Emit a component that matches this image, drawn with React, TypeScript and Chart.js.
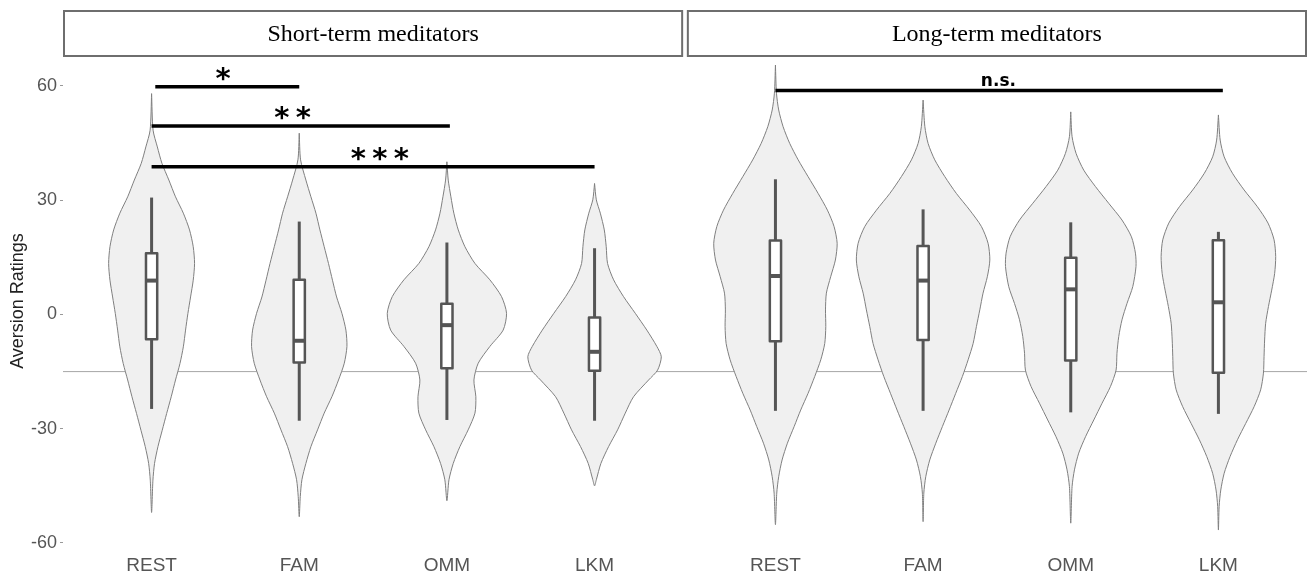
import React, { useEffect, useRef } from 'react';
import { Chart, registerables } from 'chart.js';

Chart.register(...registerables);

// ---------------- data ----------------
const PANELS = ['Short-term meditators', 'Long-term meditators'];
const CONDITIONS = ['REST', 'FAM', 'OMM', 'LKM'];
const Y_TICKS = [-60, -30, 0, 30, 60];
const REFERENCE_LINE = -15;

// box statistics per condition: [lower whisker, Q1, median, Q3, upper whisker]
const BOX_SHORT = [
  [-24.8, -6.5, 8.9, 16.1, 30.7],
  [-27.9, -12.6, -6.9, 9.1, 24.4],
  [-27.7, -14.1, -2.8, 2.8, 18.9],
  [-27.9, -14.8, -9.8, -0.8, 17.4],
];
const BOX_LONG = [
  [-25.3, -7.0, 10.1, 19.4, 35.5],
  [-25.3, -6.7, 8.9, 18.0, 27.6],
  [-25.7, -12.1, 6.6, 14.9, 24.2],
  [-26.1, -15.3, 3.2, 19.5, 21.7],
];

// violin profiles: [rating, half width (category units)], top to bottom
const VIOLIN_SHORT_REST = [
  [58.0, 0], [48.4, 0.010], [44.0, 0.039], [39.7, 0.070], [35.3, 0.117], [30.9, 0.162],
  [26.6, 0.215], [22.2, 0.257], [17.8, 0.282], [13.4, 0.291], [9.0, 0.282], [4.6, 0.264],
  [0.3, 0.246], [-4.1, 0.230], [-8.5, 0.215], [-12.9, 0.192], [-17.2, 0.162], [-21.6, 0.133],
  [-26.0, 0.102], [-30.4, 0.072], [-34.7, 0.043], [-39.1, 0.020], [-43.5, 0.009], [-52.0, 0],
];
const VIOLIN_SHORT_FAM = [
  [47.6, 0], [40.6, 0.009], [35.3, 0.045], [30.9, 0.079], [26.6, 0.113], [22.2, 0.140],
  [17.8, 0.169], [13.4, 0.198], [9.0, 0.225], [4.6, 0.253], [0.3, 0.289], [-4.1, 0.316],
  [-8.4, 0.323], [-12.8, 0.305], [-17.2, 0.266], [-21.6, 0.221], [-25.9, 0.169], [-30.3, 0.124],
  [-34.7, 0.079], [-39.1, 0.045], [-43.4, 0.018], [-47.8, 0.007], [-53.1, 0],
];
const VIOLIN_SHORT_OMM = [
  [40.1, 0], [35.3, 0.009], [30.9, 0.027], [26.6, 0.047], [22.2, 0.077], [17.8, 0.122],
  [13.4, 0.190], [9.1, 0.291], [4.7, 0.370], [0.3, 0.404], [-4.1, 0.381], [-8.4, 0.291],
  [-12.8, 0.212], [-17.2, 0.183], [-21.6, 0.196], [-25.9, 0.190], [-30.3, 0.144], [-34.7, 0.088],
  [-39.1, 0.043], [-43.4, 0.014], [-48.9, 0],
];
const VIOLIN_SHORT_LKM = [
  [34.4, 0], [30.1, 0.012], [26.6, 0.039], [22.2, 0.066], [17.8, 0.079], [13.4, 0.088],
  [9.1, 0.129], [4.7, 0.196], [0.3, 0.276], [-4.1, 0.354], [-8.4, 0.422], [-11.1, 0.452],
  [-14.6, 0.427], [-17.2, 0.366], [-21.6, 0.264], [-25.9, 0.208], [-30.3, 0.156], [-34.7, 0.095],
  [-39.1, 0.043], [-43.4, 0.012], [-45.0, 0],
];
const VIOLIN_LONG_REST = [
  [65.5, 0], [58.1, 0.007], [53.7, 0.022], [49.3, 0.052], [44.9, 0.097], [40.6, 0.154],
  [36.2, 0.221], [31.8, 0.289], [27.4, 0.352], [23.1, 0.397], [18.7, 0.418], [14.3, 0.406],
  [9.9, 0.374], [5.6, 0.345], [1.2, 0.339], [-3.2, 0.341], [-7.6, 0.334], [-11.9, 0.307],
  [-16.3, 0.266], [-20.7, 0.221], [-25.1, 0.171], [-29.4, 0.127], [-33.8, 0.081], [-38.2, 0.045],
  [-42.6, 0.022], [-46.9, 0.009], [-55.2, 0],
];
const VIOLIN_LONG_FAM = [
  [56.3, 0], [49.3, 0.012], [44.9, 0.034], [40.6, 0.079], [36.2, 0.147], [31.8, 0.225],
  [27.4, 0.316], [23.1, 0.395], [18.7, 0.440], [14.3, 0.452], [9.9, 0.435], [5.6, 0.406],
  [1.2, 0.384], [-3.2, 0.361], [-7.6, 0.339], [-11.9, 0.305], [-16.3, 0.266], [-20.7, 0.221],
  [-25.1, 0.176], [-29.4, 0.131], [-33.8, 0.086], [-38.2, 0.045], [-42.6, 0.018], [-46.9, 0.005],
  [-54.4, 0],
];
const VIOLIN_LONG_OMM = [
  [53.2, 0], [46.7, 0.009], [42.3, 0.036], [37.9, 0.088], [33.6, 0.167], [29.2, 0.257],
  [24.8, 0.347], [20.4, 0.411], [16.1, 0.438], [12.6, 0.442], [7.3, 0.420], [2.9, 0.381],
  [-1.4, 0.347], [-5.8, 0.325], [-10.2, 0.313], [-14.6, 0.307], [-18.9, 0.269], [-23.3, 0.212],
  [-27.7, 0.156], [-32.1, 0.100], [-36.4, 0.054], [-40.8, 0.025], [-45.2, 0.009], [-54.8, 0],
];
const VIOLIN_LONG_LKM = [
  [52.4, 0], [45.8, 0.012], [41.4, 0.039], [37.1, 0.095], [32.7, 0.174], [28.3, 0.264],
  [24.0, 0.336], [19.6, 0.377], [15.2, 0.388], [10.8, 0.381], [6.4, 0.361], [2.1, 0.339],
  [-2.3, 0.320], [-6.7, 0.313], [-11.1, 0.309], [-15.4, 0.305], [-19.8, 0.286], [-24.2, 0.242],
  [-28.6, 0.185], [-32.9, 0.129], [-37.3, 0.079], [-41.7, 0.039], [-46.1, 0.016], [-50.4, 0.005],
  [-56.6, 0],
];

// significance annotations
const SIG_PANEL = [0, 0, 0, 1];
const SIG_FROM = [1.025, 1, 1, 1];
const SIG_TO = [2, 3.02, 4, 4.03];
const SIG_Y = [59.8, 49.5, 38.8, 58.8];
const SIG_LABELS = ['*', '**', '***', 'n.s.'];
const SIG_LABEL_X = [1.485, 1.955, 2.545, 2.51];

// ---------------- layout constants ----------------
const PANEL_SPAN = 4.2;
const PANEL_GAP = 0.025;
const X_MIN = 0.4;
const X_MAX = PANEL_SPAN + PANEL_GAP + 4.6;
const BOX_HALF = 0.038;

const pos = (panel: number, cat: number) => panel * (PANEL_SPAN + PANEL_GAP) + cat;

const VIOLINS = [
  [VIOLIN_SHORT_REST, VIOLIN_SHORT_FAM, VIOLIN_SHORT_OMM, VIOLIN_SHORT_LKM],
  [VIOLIN_LONG_REST, VIOLIN_LONG_FAM, VIOLIN_LONG_OMM, VIOLIN_LONG_LKM],
];
const BOXES = [BOX_SHORT, BOX_LONG];

const TICK_POSITIONS: number[] = [];
const TICK_LABELS: string[] = [];
PANELS.forEach((_, p) => CONDITIONS.forEach((c, i) => { TICK_POSITIONS.push(pos(p, i + 1)); TICK_LABELS.push(c); }));

const BOX_COLOR = '#555555';

function violinPoints(cx: number, prof: number[][]) {
  const right = prof.map(([v, w]) => ({ x: cx + w, y: v }));
  const left = prof.slice(1, -1).reverse().map(([v, w]) => ({ x: cx - w, y: v }));
  return [...right, ...left, right[0]];
}

function buildDatasets() {
  const ds: any[] = [];
  const base = { type: 'line', pointRadius: 0, pointHoverRadius: 0, borderJoinStyle: 'round' };
  ds.push({ ...base, data: [{ x: X_MIN, y: REFERENCE_LINE }, { x: X_MAX, y: REFERENCE_LINE }],
    borderColor: '#a6a6a6', borderWidth: 1, fill: false, order: 10, tension: 0 });
  for (let p = 0; p < 2; p++) {
    for (let i = 0; i < 4; i++) {
      const cx = pos(p, i + 1);
      ds.push({ ...base, data: violinPoints(cx, VIOLINS[p][i]), borderColor: '#7f7f7f', borderWidth: 1,
        backgroundColor: '#f0f0f0', fill: 'shape', tension: 0.25, order: 6 });
      const [lo, q1, med, q3, hi] = BOXES[p][i];
      ds.push({ ...base, data: [{ x: cx, y: lo }, { x: cx, y: hi }], borderColor: BOX_COLOR, borderWidth: 3,
        borderCapStyle: 'butt', fill: false, tension: 0, order: 5 });
      ds.push({ ...base, data: [
        { x: cx - BOX_HALF, y: q1 }, { x: cx + BOX_HALF, y: q1 }, { x: cx + BOX_HALF, y: q3 },
        { x: cx - BOX_HALF, y: q3 }, { x: cx - BOX_HALF, y: q1 }],
        borderColor: BOX_COLOR, borderWidth: 2.5, backgroundColor: '#ffffff', fill: 'shape', tension: 0, order: 4 });
      ds.push({ ...base, data: [{ x: cx - BOX_HALF, y: med }, { x: cx + BOX_HALF, y: med }],
        borderColor: BOX_COLOR, borderWidth: 4, borderCapStyle: 'butt', fill: false, tension: 0, order: 3 });
    }
  }
  SIG_LABELS.forEach((_, k) => {
    ds.push({ ...base, data: [{ x: pos(SIG_PANEL[k], SIG_FROM[k]), y: SIG_Y[k] }, { x: pos(SIG_PANEL[k], SIG_TO[k]), y: SIG_Y[k] }],
      borderColor: '#000000', borderWidth: 3.5, borderCapStyle: 'butt', fill: false, tension: 0, order: 1 });
  });
  return ds;
}

const annotPlugin = {
  id: 'annot',
  afterDraw(chart: any) {
    const { ctx, chartArea, scales } = chart;
    const x = scales.x, y = scales.y;
    ctx.save();
    // significance labels
    SIG_LABELS.forEach((lab, k) => {
      const cx = x.getPixelForValue(pos(SIG_PANEL[k], SIG_LABEL_X[k]));
      const yb = y.getPixelForValue(SIG_Y[k]);
      ctx.fillStyle = '#000';
      ctx.textAlign = 'center';
      ctx.textBaseline = 'alphabetic';
      if (lab === 'n.s.') {
        ctx.font = 'bold 17px "DejaVu Sans", sans-serif';
        ctx.fillText(lab, cx, yb - 5);
      } else {
        ctx.font = 'bold 29px "DejaVu Sans", sans-serif';
        const m = ctx.measureText('*');
        const target = yb - 13;
        const baseline = target + (m.actualBoundingBoxAscent - m.actualBoundingBoxDescent) / 2;
        const n = lab.length;
        for (let c = 0; c < n; c++) {
          ctx.fillText('*', cx + (c - (n - 1) / 2) * 21.5, baseline);
        }
      }
    });
    // facet strips
    const stripTop = 11;
    const stripBottom = chartArea.top;
    PANELS.forEach((name, p) => {
      const left = x.getPixelForValue(p === 0 ? X_MIN : pos(1, 0) + X_MIN);
      const right = x.getPixelForValue(p === 0 ? 4.6 : X_MAX);
      ctx.strokeStyle = '#6e6e6e';
      ctx.lineWidth = 2;
      ctx.strokeRect(left + 1, stripTop, right - left - 2, stripBottom - stripTop - 1);
      ctx.fillStyle = '#000';
      ctx.font = '24px "Liberation Serif", "Times New Roman", serif';
      ctx.textAlign = 'center';
      ctx.textBaseline = 'middle';
      ctx.fillText(name, (left + right) / 2, (stripTop + stripBottom) / 2 + 1);
    });
    ctx.restore();
  },
};

export default function App() {
  const ref = useRef<HTMLCanvasElement | null>(null);
  useEffect(() => {
    document.body.style.margin = '0';
    if (!ref.current) return;
    const chart = new Chart(ref.current, {
      type: 'line',
      data: { datasets: buildDatasets() },
      options: {
        responsive: false,
        animation: false,
        events: [],
        layout: { padding: { top: 57, right: 2, left: 0, bottom: 0 } },
        plugins: { legend: { display: false }, tooltip: { enabled: false } },
        scales: {
          x: {
            type: 'linear', min: X_MIN, max: X_MAX,
            afterFit: (s: any) => { s.height = 33; },
            afterBuildTicks: (s: any) => { s.ticks = TICK_POSITIONS.map((v) => ({ value: v })); },
            ticks: {
              callback: (_v: any, i: number) => TICK_LABELS[i],
              autoSkip: false, maxRotation: 0, minRotation: 0, padding: 1,
              color: '#555555', font: { family: '"Liberation Sans", Arial, sans-serif', size: 19 },
            },
            grid: { display: false }, border: { display: false },
          },
          y: {
            type: 'linear', min: -60.53, max: 67.61,
            afterFit: (s: any) => { s.width = 63; },
            afterBuildTicks: (s: any) => { s.ticks = Y_TICKS.map((v) => ({ value: v })); },
            ticks: {
              callback: (v: any) => String(v), padding: 3,
              color: '#555555', font: { family: '"Liberation Sans", Arial, sans-serif', size: 18 },
            },
            grid: { drawOnChartArea: false, drawTicks: true, tickLength: 3, color: '#999999' },
            border: { display: false },
            title: { display: true, text: 'Aversion Ratings', color: '#222222',
              font: { family: '"Liberation Sans", Arial, sans-serif', size: 18 }, padding: { top: 7, bottom: 0 } },
          },
        },
      },
      plugins: [annotPlugin],
    } as any);
    return () => chart.destroy();
  }, []);
  return <canvas ref={ref} width={1309} height={578} style={{ display: 'block' }} />;
}
